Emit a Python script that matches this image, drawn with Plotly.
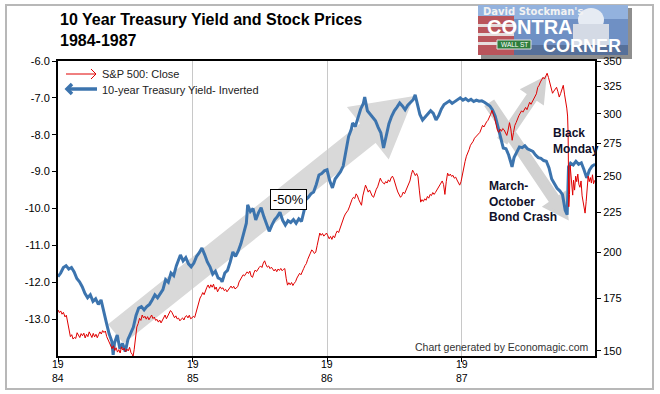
import math
import numpy as np
import pandas as pd
import plotly.graph_objects as go

# ---------------- data ----------------
# time in years since 1984-01-01
YIELD_T = [0.00, 0.02, 0.04, 0.06, 0.08, 0.10, 0.12, 0.14, 0.16, 0.18, 0.20, 0.22, 0.24, 0.26, 0.28, 0.30,
           0.32, 0.34, 0.36, 0.38, 0.40, 0.41, 0.42, 0.44, 0.46, 0.48, 0.50, 0.52, 0.54, 0.56, 0.58, 0.60,
           0.62, 0.64, 0.66, 0.68, 0.70, 0.72, 0.74, 0.76, 0.78, 0.80, 0.82, 0.84, 0.86, 0.88, 0.90, 0.91,
           0.93, 0.95, 0.97, 0.99, 1.01, 1.03, 1.05, 1.07, 1.09, 1.11, 1.13, 1.15, 1.17, 1.19, 1.21, 1.22,
           1.24, 1.26, 1.28, 1.30, 1.32, 1.34, 1.36, 1.38, 1.40, 1.41, 1.43, 1.45, 1.47, 1.49, 1.51, 1.53,
           1.55, 1.57, 1.59, 1.61, 1.63, 1.65, 1.67, 1.69, 1.71, 1.73, 1.75, 1.77, 1.79, 1.81, 1.83, 1.84,
           1.86, 1.88, 1.90, 1.92, 1.94, 1.96, 1.98, 2.00, 2.02, 2.04, 2.06, 2.08, 2.10, 2.12, 2.14, 2.16,
           2.18, 2.19, 2.21, 2.23, 2.25, 2.27, 2.28, 2.30, 2.32, 2.34, 2.36, 2.38, 2.40, 2.42, 2.44, 2.46,
           2.48, 2.50, 2.52, 2.54, 2.56, 2.58, 2.60, 2.62, 2.64, 2.655, 2.67, 2.69, 2.71, 2.73, 2.75, 2.77,
           2.79, 2.81, 2.83, 2.85, 2.87, 2.89, 2.91, 2.93, 2.95, 2.97, 2.99, 3.01, 3.03, 3.05, 3.07, 3.09,
           3.11, 3.13, 3.15, 3.17, 3.19, 3.21, 3.23, 3.25, 3.27, 3.29, 3.31, 3.33, 3.35, 3.37, 3.375, 3.39,
           3.41, 3.43, 3.45, 3.47, 3.49, 3.51, 3.53, 3.55, 3.57, 3.59, 3.61, 3.63, 3.65, 3.67, 3.69, 3.71,
           3.73, 3.75, 3.77, 3.785, 3.795, 3.81, 3.83, 3.85, 3.87, 3.89, 3.91, 3.93, 3.95, 3.97, 3.993]
YIELD_INV = [-11.85, -11.75, -11.60, -11.55, -11.64, -11.60, -11.72, -11.90, -11.99, -12.12, -12.30, -12.42,
             -12.34, -12.52, -12.45, -12.60, -12.48, -12.82, -13.10, -13.40, -13.60, -13.97, -13.65, -13.43,
             -13.80, -13.66, -13.88, -13.55, -13.40, -13.22, -12.90, -12.70, -12.66, -12.75, -12.66, -12.60,
             -12.48, -12.34, -12.42, -12.30, -12.20, -11.93, -12.00, -11.75, -11.82, -11.55, -11.35, -11.26,
             -11.42, -11.33, -11.50, -11.58, -11.48, -11.30, -11.20, -11.07, -11.25, -11.45, -11.58, -11.78,
             -11.70, -11.88, -11.92, -11.99, -11.75, -11.68, -11.45, -11.18, -11.30, -11.15, -10.95, -10.70,
             -10.40, -9.90, -10.08, -10.00, -10.31, -10.12, -9.98, -10.22, -10.40, -10.62, -10.45, -10.31,
             -10.22, -10.10, -10.32, -10.45, -10.33, -10.38, -10.30, -10.40, -10.28, -10.35, -10.05, -9.77,
             -9.70, -9.60, -9.55, -9.35, -9.09, -9.05, -8.98, -8.95, -9.25, -9.44, -9.20, -9.10, -9.00, -8.85,
             -8.40, -8.05, -7.85, -7.68, -7.78, -7.55, -7.30, -7.15, -6.98, -7.35, -7.45, -7.55, -7.62, -7.80,
             -7.95, -8.36, -7.98, -7.70, -7.50, -7.35, -7.25, -7.14, -7.22, -7.32, -7.20, -7.12, -7.05, -6.92,
             -7.18, -7.45, -7.60, -7.52, -7.45, -7.35, -7.42, -7.60, -7.48, -7.30, -7.18, -7.12, -7.08, -7.15,
             -7.10, -7.04, -7.00, -7.06, -7.02, -7.08, -7.04, -7.10, -7.06, -7.09, -7.08, -7.12, -7.16, -7.22,
             -7.33, -7.50, -7.78, -8.10, -8.36, -8.38, -8.55, -8.80, -8.87, -8.62, -8.45, -8.33, -8.35, -8.30,
             -8.38, -8.42, -8.45, -8.55, -8.62, -8.64, -8.70, -8.72, -8.90, -9.20, -9.34, -9.45, -9.52, -9.62,
             -10.04, -10.17, -8.87, -8.77, -8.82, -8.72, -8.80, -8.76, -8.95, -9.17, -8.96, -8.85, -8.80]

SPX_T = [0.000, 0.010, 0.020, 0.030, 0.040, 0.052, 0.062, 0.072, 0.082, 0.092, 0.102, 0.112, 0.122, 0.132,
         0.142, 0.152, 0.162, 0.172, 0.182, 0.192, 0.202, 0.212, 0.222, 0.232, 0.242, 0.252, 0.262, 0.272,
         0.282, 0.292, 0.302, 0.312, 0.322, 0.332, 0.342, 0.352, 0.362, 0.372, 0.382, 0.392, 0.402, 0.412,
         0.422, 0.432, 0.442, 0.452, 0.462, 0.472, 0.482, 0.492, 0.502, 0.512, 0.522, 0.532, 0.542, 0.552,
         0.558, 0.566, 0.576, 0.586, 0.596, 0.606, 0.616, 0.626, 0.636, 0.646, 0.656, 0.666, 0.676, 0.686,
         0.696, 0.706, 0.716, 0.726, 0.736, 0.746, 0.756, 0.766, 0.776, 0.786, 0.796, 0.806, 0.816, 0.826,
         0.836, 0.846, 0.856, 0.866, 0.876, 0.886, 0.896, 0.906, 0.916, 0.926, 0.936, 0.946, 0.956, 0.966,
         0.976, 0.986, 0.996, 1.006, 1.016, 1.026, 1.036, 1.046, 1.056, 1.066, 1.076, 1.086, 1.096, 1.106,
         1.116, 1.126, 1.136, 1.146, 1.156, 1.166, 1.176, 1.186, 1.196, 1.206, 1.216, 1.226, 1.236, 1.246,
         1.256, 1.266, 1.276, 1.286, 1.296, 1.306, 1.316, 1.326, 1.336, 1.346, 1.356, 1.366, 1.376, 1.386,
         1.396, 1.406, 1.416, 1.426, 1.436, 1.446, 1.456, 1.466, 1.476, 1.486, 1.496, 1.506, 1.516, 1.526,
         1.536, 1.546, 1.556, 1.566, 1.576, 1.586, 1.596, 1.606, 1.616, 1.626, 1.636, 1.646, 1.656, 1.666,
         1.676, 1.686, 1.696, 1.706, 1.716, 1.726, 1.736, 1.746, 1.756, 1.766, 1.776, 1.786, 1.796, 1.806,
         1.816, 1.826, 1.836, 1.846, 1.856, 1.866, 1.876, 1.886, 1.896, 1.906, 1.916, 1.926, 1.936, 1.946,
         1.956, 1.966, 1.976, 1.986, 1.996, 2.006, 2.016, 2.026, 2.036, 2.046, 2.056, 2.066, 2.076, 2.086,
         2.096, 2.106, 2.116, 2.126, 2.136, 2.146, 2.156, 2.166, 2.176, 2.186, 2.196, 2.206, 2.216, 2.226,
         2.236, 2.246, 2.256, 2.266, 2.276, 2.286, 2.296, 2.306, 2.316, 2.326, 2.336, 2.346, 2.356, 2.366,
         2.376, 2.386, 2.396, 2.406, 2.416, 2.426, 2.436, 2.446, 2.456, 2.466, 2.476, 2.486, 2.496, 2.506,
         2.516, 2.526, 2.536, 2.546, 2.556, 2.566, 2.576, 2.586, 2.596, 2.606, 2.616, 2.626, 2.636, 2.646,
         2.656, 2.666, 2.676, 2.686, 2.696, 2.706, 2.716, 2.726, 2.736, 2.746, 2.756, 2.766, 2.776, 2.786,
         2.796, 2.806, 2.816, 2.826, 2.836, 2.846, 2.856, 2.866, 2.876, 2.886, 2.896, 2.906, 2.916, 2.926,
         2.936, 2.946, 2.956, 2.966, 2.976, 2.986, 2.996, 3.006, 3.016, 3.026, 3.036, 3.046, 3.056, 3.066,
         3.076, 3.086, 3.096, 3.106, 3.116, 3.126, 3.136, 3.146, 3.156, 3.166, 3.176, 3.186, 3.196, 3.206,
         3.216, 3.226, 3.236, 3.246, 3.256, 3.266, 3.276, 3.286, 3.296, 3.306, 3.316, 3.326, 3.336, 3.346,
         3.356, 3.366, 3.376, 3.386, 3.396, 3.406, 3.416, 3.426, 3.436, 3.446, 3.456, 3.466, 3.476, 3.486,
         3.496, 3.506, 3.516, 3.526, 3.536, 3.546, 3.556, 3.566, 3.576, 3.586, 3.596, 3.606, 3.616, 3.626,
         3.636, 3.646, 3.656, 3.666, 3.676, 3.686, 3.696, 3.706, 3.716, 3.726, 3.736, 3.746, 3.756, 3.766,
         3.774, 3.782, 3.788, 3.792, 3.797, 3.802, 3.807, 3.814, 3.820, 3.826, 3.832, 3.840, 3.848, 3.856,
         3.864, 3.872, 3.880, 3.888, 3.896, 3.904, 3.912, 3.918, 3.926, 3.934, 3.941, 3.949, 3.957, 3.965,
         3.973, 3.981, 3.990]
SPX_CLOSE = [169.1, 167.8, 168.6, 167.0, 167.9, 165.7, 166.5, 163.0, 160.5, 156.4, 157.3, 155.3, 156.0, 155.6,
             158.2, 157.0, 156.0, 157.8, 156.8, 158.0, 155.8, 157.5, 156.4, 158.6, 157.2, 156.0, 157.9, 156.3,
             157.5, 155.9, 157.4, 158.6, 157.6, 159.2, 158.3, 159.0, 156.4, 155.0, 153.6, 152.8, 151.0, 152.3,
             150.2, 151.4, 149.5, 150.6, 149.1, 151.8, 150.4, 151.2, 149.6, 150.8, 150.0, 151.6, 149.3, 148.5,
             147.6, 150.5, 155.0, 160.9, 162.5, 165.0, 164.0, 166.6, 165.2, 166.0, 164.6, 165.8, 164.3, 165.5,
             166.6, 164.9, 165.6, 164.0, 164.5, 163.2, 164.2, 162.8, 163.9, 165.5, 166.6, 164.8, 166.0, 167.5,
             168.8, 168.0, 166.5, 165.3, 166.2, 164.7, 165.1, 163.8, 164.6, 165.2, 164.2, 165.8, 166.3, 165.2,
             166.5, 164.8, 165.2, 166.0, 165.4, 168.0, 170.5, 172.3, 175.1, 176.3, 177.9, 176.8, 179.2, 180.6,
             181.9, 180.2, 182.0, 180.7, 182.3, 179.6, 180.8, 178.3, 179.7, 180.9, 179.8, 180.4, 178.9, 179.6,
             178.3, 179.2, 180.6, 181.3, 180.2, 181.2, 179.8, 180.4, 181.0, 183.5, 185.0, 186.2, 187.4, 186.8,
             188.3, 189.0, 188.1, 189.4, 186.6, 186.0, 188.4, 190.0, 189.2, 190.8, 191.5, 192.3, 191.4, 193.9,
             195.2, 193.0, 191.6, 192.3, 190.8, 191.6, 190.2, 189.5, 190.5, 189.1, 190.6, 189.8, 190.9, 189.6,
             190.4, 190.8, 185.5, 181.8, 183.1, 182.0, 183.2, 181.6, 182.8, 183.7, 185.6, 186.8, 188.2, 187.4,
             189.6, 190.8, 192.5, 193.6, 196.0, 198.4, 199.6, 201.5, 200.8, 199.4, 200.2, 204.0, 208.3, 211.7,
             210.3, 211.4, 209.8, 211.2, 211.7, 210.0, 208.2, 209.6, 207.8, 210.0, 208.8, 211.4, 213.0, 212.0,
             214.7, 216.8, 219.5, 221.9, 223.8, 225.0, 226.3, 228.5, 231.2, 233.6, 235.0, 234.2, 237.4, 236.0,
             233.3, 231.8, 229.6, 236.0, 241.0, 243.5, 241.2, 238.6, 240.1, 237.2, 235.8, 235.0, 238.0, 240.6,
             242.3, 246.5, 248.5, 246.2, 245.0, 244.3, 246.1, 245.0, 247.3, 246.0, 248.7, 250.0, 248.0, 244.0,
             241.5, 238.7, 236.4, 235.0, 236.2, 238.6, 237.5, 239.8, 242.0, 243.6, 246.5, 251.0, 254.4, 252.5,
             250.4, 251.9, 249.5, 240.0, 231.7, 233.4, 232.2, 234.0, 233.0, 235.6, 234.4, 237.0, 236.2, 238.3,
             237.0, 238.4, 240.2, 241.5, 243.0, 245.2, 246.5, 244.0, 237.0, 246.0, 252.2, 250.2, 251.5, 249.8,
             250.6, 248.5, 249.3, 247.2, 245.0, 243.5, 246.0, 252.0, 256.6, 261.0, 265.0, 268.6, 270.2, 273.6,
             275.0, 276.8, 279.3, 280.5, 282.2, 283.0, 284.1, 287.0, 290.0, 288.6, 291.5, 293.0, 294.3, 296.5,
             299.5, 303.0, 300.2, 296.0, 291.0, 286.0, 284.1, 286.8, 285.0, 287.3, 286.2, 283.2, 281.6, 286.0,
             292.3, 287.0, 277.6, 284.0, 290.0, 292.5, 295.8, 298.4, 300.5, 302.6, 301.4, 304.2, 305.6, 303.6,
             307.1, 310.2, 308.4, 311.0, 313.2, 315.0, 318.0, 324.1, 326.0, 329.2, 331.0, 333.7, 332.0, 336.0,
             337.7, 333.5, 327.9, 322.0, 318.5, 320.5, 323.0, 324.1, 320.0, 315.0, 318.2, 322.6, 326.0, 317.0,
             312.0, 305.0, 298.0, 283.0, 228.6, 236.8, 258.0, 248.0, 240.0, 236.5, 247.0, 240.0, 250.0, 246.0,
             251.5, 244.0, 242.0, 246.5, 236.0, 232.0, 228.0, 224.4, 232.0, 240.0, 250.0, 246.0, 249.0, 245.0,
             251.0, 244.5, 247.0]

YEAR_TICKS = ["1984-01-01", "1985-01-01", "1986-01-01", "1987-01-01"]
YEAR_LABELS = ["19<br>84", "19<br>85", "19<br>86", "19<br>87"]
LEFT_TICKS = [-13.0, -12.0, -11.0, -10.0, -9.0, -8.0, -7.0, -6.0]
RIGHT_TICKS = [150, 175, 200, 225, 250, 275, 300, 325, 350]

BASE = pd.Timestamp("1984-01-01")
def to_dates(ts):
    return BASE + pd.to_timedelta(np.array(ts) * 365.25, unit="D")

FONT = "Liberation Sans, Arial, sans-serif"
BLUE = "#3c74ae"
RED = "#e00000"

# ---------------- layout geometry (pixels) ----------------
L, R, T, B = 58, 595, 61, 356
W, H = R - L, B - T
def px(x):
    return (x - L) / W
def py(y):
    return (B - y) / H

fig = go.Figure()
fig.add_trace(go.Scatter(x=to_dates(YIELD_T), y=YIELD_INV, mode="lines",
                         line=dict(color=BLUE, width=3), name="10-year Treasury Yield- Inverted",
                         yaxis="y", showlegend=False))
fig.add_trace(go.Scatter(x=to_dates(SPX_T), y=SPX_CLOSE, mode="lines",
                         line=dict(color=RED, width=1), name="S&P 500: Close",
                         yaxis="y2", showlegend=False))

shapes = []

def arrow(x0, y0, x1, y1, w, hw, hl, color):
    dx, dy = x1 - x0, y1 - y0
    ln = math.hypot(dx, dy)
    ux, uy = dx / ln, dy / ln
    nx, ny = -uy, ux
    bx, by = x1 - ux * hl, y1 - uy * hl
    pts = [(x0 + nx * w / 2, y0 + ny * w / 2), (bx + nx * w / 2, by + ny * w / 2),
           (bx + nx * hw / 2, by + ny * hw / 2), (x1, y1),
           (bx - nx * hw / 2, by - ny * hw / 2), (bx - nx * w / 2, by - ny * w / 2),
           (x0 - nx * w / 2, y0 - ny * w / 2)]
    path = "M " + " L ".join(f"{px(a):.5f},{py(b):.5f}" for a, b in pts) + " Z"
    return dict(type="path", xref="paper", yref="paper", path=path, fillcolor=color,
                line=dict(color=color, width=3), layer="below")

shapes.append(arrow(117, 333, 412, 98, 22, 62, 55, "#d9d9d9"))
shapes.append(arrow(490, 104, 567, 218, 9, 24, 22, "#d2d2d2"))
shapes.append(arrow(503, 140, 545, 78, 9, 24, 22, "#d2d2d2"))

def seg(points, color, width):
    path = "M " + " L ".join(f"{px(a):.5f},{py(b):.5f}" for a, b in points)
    return dict(type="path", xref="paper", yref="paper", path=path,
                line=dict(color=color, width=width), layer="above")

# legend arrows
shapes.append(seg([(66, 74), (96, 74)], RED, 1))
shapes.append(seg([(91, 69), (96, 74), (91, 79)], RED, 1))
shapes.append(seg([(67, 89), (97, 89)], BLUE, 3.5))
shapes.append(seg([(72, 84), (67, 89), (72, 94)], BLUE, 3.5))

# outer frame
shapes.append(dict(type="rect", xref="paper", yref="paper", x0=px(6), x1=px(653), y0=py(389), y1=py(5),
                   line=dict(color="#b8b8b8", width=2), layer="below"))

# logo
def rect(x0, y0, x1, y1, fill, line=None):
    d = dict(type="rect", xref="paper", yref="paper", x0=px(x0), x1=px(x1), y0=py(y1), y1=py(y0),
             fillcolor=fill, line=dict(width=0), layer="above")
    if line:
        d["line"] = line
    return d

shapes.append(rect(481, 8, 632, 59, "rgba(50,50,50,0.55)"))
shapes.append(rect(478, 5, 628, 55, "#6f90c4"))
shapes.append(rect(478, 5, 628, 19, "#93b2de"))
shapes.append(rect(478, 45, 628, 55, "#56709a"))
shapes.append(rect(478, 16, 514, 55, "#b9545b"))
shapes.append(rect(478, 24, 514, 27, "#e6dede"))
shapes.append(rect(478, 33, 514, 36, "#e6dede"))
shapes.append(rect(478, 42, 514, 45, "#e6dede"))
shapes.append(dict(type="circle", xref="paper", yref="paper", x0=px(578), x1=px(604), y0=py(32), y1=py(8),
                   fillcolor="#e6ebf3", line=dict(width=0), layer="above"))
shapes.append(rect(573, 24, 609, 45, "#d4dae5"))
shapes.append(rect(497, 40, 531, 49, "#2e7d3c", line=dict(color="#e0e0e0", width=1)))

annotations = []
def ann(text, x, y, xanchor="left", yanchor="middle", size=11, color="#222", family=FONT, **kw):
    annotations.append(dict(text=text, x=px(x), y=py(y), xref="paper", yref="paper",
                            xanchor=xanchor, yanchor=yanchor, showarrow=False,
                            font=dict(size=size, color=color, family=family), **kw))

# title
ann("<b>10 Year Treasury Yield and Stock Prices</b><br><b>1984-1987</b>", 58, 9, yanchor="top",
    size=16, color="#000", align="left")
# legend texts
ann("S&P 500: Close", 100, 74, size=11)
ann("10-year Treasury Yield- Inverted", 100, 89.5, size=11)
# chart notes
ann("-50%", 288, 199.5, xanchor="center", size=13, color="#000",
    bordercolor="#000", borderwidth=1, borderpad=2, bgcolor="#fff")
ann("<b>March-<br>October<br>Bond Crash</b>", 487, 177, yanchor="top", size=12, color="#10102a",
    align="left")
ann("<b>Black<br>Monday</b>", 551, 124, yanchor="top", size=12, color="#10102a", align="left")
ann("Chart generated by Economagic.com", 591, 347, xanchor="right", size=10.5, color="#333")
# year labels (two short lines, as in the original)
for d, lab in zip(YEAR_TICKS, YEAR_LABELS):
    annotations.append(dict(text=lab, x=d, xref="x", y=py(356.5), yref="paper", xanchor="center",
                            yanchor="top", showarrow=False, borderpad=0, align="center",
                            font=dict(size=10.5, color="#000", family=FONT)))
# logo texts
ann("<b>David Stockman's</b>", 481, 12, size=10, color="#f2f2f2", family="DejaVu Sans, sans-serif")
ann("<b>CONTRA</b>", 485, 27, size=20, color="#ffffff")
ann("WALL ST", 514, 44.5, xanchor="center", size=6.5, color="#ffffff")
ann("<b>CORNER</b>", 541, 46, size=18, color="#ffffff")

fig.update_layout(
    width=660, height=394, autosize=False,
    margin=dict(l=L, r=660 - R, t=T, b=394 - B, pad=0),
    paper_bgcolor="#ffffff", plot_bgcolor="#ffffff",
    font=dict(family=FONT, size=11, color="#000"),
    showlegend=False,
    xaxis=dict(type="date", range=["1984-01-01", "1987-12-29"], tickmode="array",
               tickvals=YEAR_TICKS, showticklabels=False, showgrid=True, gridcolor="#c8c8c8", gridwidth=1,
               showline=True, linecolor="#000", linewidth=2, mirror=True, ticks="outside", ticklen=4,
               tickcolor="#000", zeroline=False, automargin=False),
    yaxis=dict(range=[-14, -6], tickmode="array", tickvals=LEFT_TICKS,
               ticktext=[f"{v:.1f}" for v in LEFT_TICKS], showgrid=False, zeroline=False,
               showline=True, linecolor="#000", linewidth=2, ticks="outside", ticklen=4,
               tickcolor="#000", tickfont=dict(size=11), automargin=False),
    yaxis2=dict(type="log", overlaying="y", side="right", range=[math.log10(147.8), math.log10(350)],
                tickmode="array", tickvals=RIGHT_TICKS, ticktext=[str(v) for v in RIGHT_TICKS],
                showgrid=False, zeroline=False, showline=True, linecolor="#000", linewidth=2,
                ticks="outside", ticklen=4, tickcolor="#000", tickfont=dict(size=11), automargin=False),
    shapes=shapes,
    annotations=annotations,
)

fig.write_html("out.html", config={"displayModeBar": False},
               post_script="document.body.style.margin='0';")
